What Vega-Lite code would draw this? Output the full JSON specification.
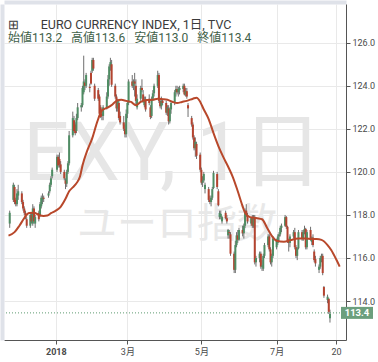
{
  "$schema": "https://vega.github.io/schema/vega-lite/v6.json",
  "autosize": "none",
  "width": 342,
  "height": 336,
  "padding": {"left": 4, "top": 4, "right": 32, "bottom": 22},
  "background": "white",
  "title": {
    "text": "⊞\u00a0\u00a0\u00a0\u00a0\u00a0\u00a0\u00a0EURO CURRENCY INDEX, 1日, TVC",
    "subtitle": "始値113.2\u00a0\u00a0\u00a0高値113.6\u00a0\u00a0\u00a0安値113.0\u00a0\u00a0\u00a0終値113.4",
    "anchor": "start",
    "frame": "group",
    "offset": -42,
    "dx": 4,
    "font": "Roboto, 'Noto Sans CJK JP'",
    "fontSize": 12.5,
    "fontWeight": "normal",
    "color": "#3a3a3a",
    "subtitleFont": "Roboto, 'Noto Sans CJK JP'",
    "subtitleFontSize": 12,
    "subtitleColor": "#3f6149",
    "subtitlePadding": 2
  },
  "config": {
    "view": {"stroke": null},
    "axis": {
      "labelFont": "Roboto, 'Noto Sans CJK JP'",
      "labelFontSize": 9,
      "labelColor": "#4a4a4a",
      "gridColor": "#e9e9e9",
      "domainColor": "#555555",
      "tickColor": "#555555",
      "tickSize": 4,
      "title": null
    }
  },
  "resolve": {"axis": {"x": "independent", "y": "independent"}},
  "datasets": {
    "ohlc": [
      {"d":"2017-11-24","o":117.6,"h":118.2,"l":117.4,"c":118.1},
      {"d":"2017-11-27","o":118.7,"h":119.5,"l":118.6,"c":119.4},
      {"d":"2017-11-28","o":119.3,"h":119.4,"l":118.5,"c":118.6},
      {"d":"2017-11-29","o":118.7,"h":118.8,"l":118.4,"c":118.5},
      {"d":"2017-11-30","o":118.5,"h":119.2,"l":118.4,"c":119.0},
      {"d":"2017-12-01","o":118.9,"h":119.4,"l":118.7,"c":119.1},
      {"d":"2017-12-04","o":119.0,"h":119.1,"l":118.5,"c":118.6},
      {"d":"2017-12-05","o":118.6,"h":118.7,"l":118.2,"c":118.3},
      {"d":"2017-12-06","o":118.3,"h":118.4,"l":118.0,"c":118.1},
      {"d":"2017-12-07","o":118.1,"h":118.2,"l":117.8,"c":117.9},
      {"d":"2017-12-08","o":117.8,"h":117.9,"l":117.4,"c":117.5},
      {"d":"2017-12-11","o":117.5,"h":118.1,"l":117.4,"c":118.0},
      {"d":"2017-12-12","o":118.0,"h":118.1,"l":117.6,"c":117.7},
      {"d":"2017-12-13","o":117.6,"h":118.5,"l":117.5,"c":118.3},
      {"d":"2017-12-14","o":118.3,"h":118.4,"l":117.6,"c":117.7},
      {"d":"2017-12-15","o":117.6,"h":118.0,"l":117.4,"c":117.9},
      {"d":"2017-12-18","o":118.1,"h":118.2,"l":117.7,"c":117.8},
      {"d":"2017-12-19","o":118.0,"h":118.6,"l":117.9,"c":118.5},
      {"d":"2017-12-20","o":118.4,"h":118.9,"l":118.3,"c":118.8},
      {"d":"2017-12-21","o":118.7,"h":119.0,"l":118.5,"c":118.8},
      {"d":"2017-12-22","o":118.8,"h":118.9,"l":118.6,"c":118.75},
      {"d":"2017-12-26","o":118.9,"h":119.1,"l":118.8,"c":119.0},
      {"d":"2017-12-27","o":119.1,"h":119.5,"l":119.0,"c":119.4},
      {"d":"2017-12-28","o":119.4,"h":119.8,"l":119.3,"c":119.7},
      {"d":"2017-12-29","o":119.8,"h":120.2,"l":119.7,"c":120.1},
      {"d":"2018-01-02","o":120.1,"h":120.8,"l":120.0,"c":120.7},
      {"d":"2018-01-03","o":120.7,"h":120.8,"l":120.2,"c":120.3},
      {"d":"2018-01-04","o":120.6,"h":120.9,"l":120.2,"c":120.35},
      {"d":"2018-01-05","o":120.35,"h":120.5,"l":119.9,"c":120.0},
      {"d":"2018-01-08","o":120.0,"h":120.1,"l":119.6,"c":119.7},
      {"d":"2018-01-09","o":119.6,"h":119.7,"l":119.2,"c":119.45},
      {"d":"2018-01-10","o":119.45,"h":120.1,"l":119.3,"c":120.0},
      {"d":"2018-01-11","o":120.0,"h":120.5,"l":119.9,"c":120.4},
      {"d":"2018-01-12","o":120.4,"h":121.9,"l":120.3,"c":121.7},
      {"d":"2018-01-15","o":121.7,"h":122.8,"l":121.6,"c":122.5},
      {"d":"2018-01-16","o":122.4,"h":122.6,"l":121.8,"c":121.9},
      {"d":"2018-01-17","o":122.2,"h":122.3,"l":121.7,"c":121.8},
      {"d":"2018-01-18","o":121.9,"h":122.7,"l":121.8,"c":122.5},
      {"d":"2018-01-19","o":122.5,"h":123.2,"l":122.4,"c":123.0},
      {"d":"2018-01-22","o":123.0,"h":123.2,"l":122.8,"c":123.1},
      {"d":"2018-01-23","o":123.1,"h":124.0,"l":123.0,"c":123.9},
      {"d":"2018-01-24","o":123.7,"h":125.4,"l":123.6,"c":124.2},
      {"d":"2018-01-25","o":124.15,"h":124.3,"l":123.8,"c":124.0},
      {"d":"2018-01-26","o":124.0,"h":124.6,"l":123.9,"c":124.5},
      {"d":"2018-01-29","o":123.95,"h":124.1,"l":123.7,"c":123.9},
      {"d":"2018-01-30","o":124.6,"h":124.7,"l":124.05,"c":124.1},
      {"d":"2018-01-31","o":124.7,"h":125.3,"l":124.6,"c":125.2},
      {"d":"2018-02-01","o":125.2,"h":125.3,"l":124.7,"c":124.8},
      {"d":"2018-02-02","o":124.0,"h":124.1,"l":123.3,"c":123.4},
      {"d":"2018-02-05","o":123.8,"h":123.9,"l":123.3,"c":123.4},
      {"d":"2018-02-06","o":123.5,"h":123.6,"l":122.6,"c":122.7},
      {"d":"2018-02-07","o":123.0,"h":123.1,"l":122.5,"c":122.55},
      {"d":"2018-02-08","o":122.7,"h":122.9,"l":122.4,"c":122.6},
      {"d":"2018-02-09","o":122.6,"h":123.1,"l":122.4,"c":123.0},
      {"d":"2018-02-12","o":123.0,"h":123.7,"l":122.9,"c":123.5},
      {"d":"2018-02-13","o":123.5,"h":124.5,"l":123.4,"c":124.3},
      {"d":"2018-02-14","o":124.3,"h":125.0,"l":124.0,"c":124.9},
      {"d":"2018-02-15","o":124.9,"h":125.3,"l":124.7,"c":125.1},
      {"d":"2018-02-16","o":125.0,"h":125.2,"l":123.95,"c":124.05},
      {"d":"2018-02-19","o":124.0,"h":124.1,"l":123.4,"c":123.5},
      {"d":"2018-02-20","o":123.5,"h":123.6,"l":122.8,"c":122.95},
      {"d":"2018-02-21","o":122.95,"h":123.4,"l":122.8,"c":123.3},
      {"d":"2018-02-22","o":123.2,"h":123.3,"l":122.4,"c":122.5},
      {"d":"2018-02-23","o":122.6,"h":122.8,"l":122.2,"c":122.3},
      {"d":"2018-02-26","o":122.3,"h":122.6,"l":121.9,"c":122.0},
      {"d":"2018-02-27","o":122.0,"h":122.2,"l":121.6,"c":121.75},
      {"d":"2018-02-28","o":121.75,"h":122.9,"l":121.6,"c":122.7},
      {"d":"2018-03-01","o":122.7,"h":123.3,"l":122.5,"c":123.2},
      {"d":"2018-03-02","o":123.2,"h":124.3,"l":123.1,"c":124.2},
      {"d":"2018-03-05","o":124.2,"h":124.5,"l":123.9,"c":124.0},
      {"d":"2018-03-06","o":124.0,"h":124.3,"l":123.8,"c":124.2},
      {"d":"2018-03-07","o":124.2,"h":124.6,"l":123.5,"c":124.1},
      {"d":"2018-03-08","o":124.0,"h":124.3,"l":123.1,"c":123.3},
      {"d":"2018-03-09","o":123.0,"h":123.6,"l":122.9,"c":123.4},
      {"d":"2018-03-12","o":123.4,"h":124.0,"l":123.3,"c":123.9},
      {"d":"2018-03-13","o":123.9,"h":124.3,"l":123.7,"c":123.8},
      {"d":"2018-03-14","o":123.6,"h":123.8,"l":123.2,"c":123.3},
      {"d":"2018-03-15","o":123.1,"h":123.5,"l":123.0,"c":123.35},
      {"d":"2018-03-16","o":123.35,"h":123.5,"l":122.8,"c":122.9},
      {"d":"2018-03-19","o":123.4,"h":123.6,"l":123.1,"c":123.2},
      {"d":"2018-03-20","o":123.0,"h":123.1,"l":122.45,"c":122.55},
      {"d":"2018-03-21","o":122.6,"h":123.5,"l":122.5,"c":123.4},
      {"d":"2018-03-22","o":123.4,"h":123.8,"l":123.3,"c":123.65},
      {"d":"2018-03-23","o":123.65,"h":124.1,"l":123.5,"c":124.0},
      {"d":"2018-03-26","o":124.0,"h":124.7,"l":123.9,"c":124.5},
      {"d":"2018-03-27","o":124.5,"h":124.6,"l":123.2,"c":123.3},
      {"d":"2018-03-28","o":123.3,"h":123.4,"l":122.95,"c":123.05},
      {"d":"2018-03-29","o":123.05,"h":123.5,"l":122.9,"c":123.3},
      {"d":"2018-03-30","o":123.3,"h":123.4,"l":123.1,"c":123.2},
      {"d":"2018-04-02","o":123.2,"h":123.3,"l":122.65,"c":122.75},
      {"d":"2018-04-03","o":122.75,"h":123.1,"l":122.6,"c":123.0},
      {"d":"2018-04-04","o":122.95,"h":123.1,"l":122.2,"c":122.35},
      {"d":"2018-04-05","o":122.35,"h":123.0,"l":122.25,"c":122.9},
      {"d":"2018-04-06","o":122.9,"h":123.3,"l":122.7,"c":123.2},
      {"d":"2018-04-09","o":123.2,"h":123.8,"l":123.1,"c":123.7},
      {"d":"2018-04-10","o":123.7,"h":124.0,"l":123.5,"c":123.85},
      {"d":"2018-04-11","o":123.85,"h":124.0,"l":123.6,"c":123.7},
      {"d":"2018-04-12","o":123.7,"h":123.95,"l":123.5,"c":123.85},
      {"d":"2018-04-13","o":123.8,"h":124.0,"l":123.6,"c":123.9},
      {"d":"2018-04-16","o":123.85,"h":124.1,"l":123.7,"c":124.0},
      {"d":"2018-04-17","o":124.0,"h":124.1,"l":123.55,"c":123.6},
      {"d":"2018-04-18","o":123.6,"h":123.9,"l":123.5,"c":123.75},
      {"d":"2018-04-19","o":123.75,"h":123.9,"l":123.4,"c":123.5},
      {"d":"2018-04-20","o":123.1,"h":123.2,"l":122.55,"c":122.95},
      {"d":"2018-04-23","o":122.5,"h":122.6,"l":122.1,"c":122.2},
      {"d":"2018-04-24","o":122.2,"h":122.3,"l":121.5,"c":121.6},
      {"d":"2018-04-25","o":121.6,"h":121.7,"l":121.0,"c":121.1},
      {"d":"2018-04-26","o":121.1,"h":121.6,"l":120.7,"c":121.4},
      {"d":"2018-04-27","o":121.3,"h":121.4,"l":120.6,"c":120.75},
      {"d":"2018-04-30","o":120.8,"h":120.9,"l":120.0,"c":120.1},
      {"d":"2018-05-01","o":120.1,"h":120.2,"l":119.4,"c":119.5},
      {"d":"2018-05-02","o":119.5,"h":119.8,"l":119.3,"c":119.6},
      {"d":"2018-05-03","o":119.6,"h":120.0,"l":119.5,"c":119.9},
      {"d":"2018-05-04","o":119.2,"h":119.5,"l":119.0,"c":119.4},
      {"d":"2018-05-07","o":119.2,"h":119.3,"l":118.6,"c":118.7},
      {"d":"2018-05-08","o":118.7,"h":118.9,"l":118.5,"c":118.6},
      {"d":"2018-05-09","o":118.6,"h":118.9,"l":118.4,"c":118.8},
      {"d":"2018-05-10","o":118.8,"h":119.3,"l":118.7,"c":119.2},
      {"d":"2018-05-11","o":119.25,"h":120.05,"l":119.2,"c":119.95},
      {"d":"2018-05-14","o":119.9,"h":120.0,"l":119.2,"c":119.3},
      {"d":"2018-05-15","o":119.1,"h":119.2,"l":118.4,"c":118.45},
      {"d":"2018-05-16","o":117.9,"h":118.2,"l":117.8,"c":118.1},
      {"d":"2018-05-17","o":117.9,"h":118.2,"l":117.8,"c":118.05},
      {"d":"2018-05-18","o":117.7,"h":117.95,"l":117.6,"c":117.9},
      {"d":"2018-05-21","o":118.1,"h":118.2,"l":117.8,"c":117.85},
      {"d":"2018-05-22","o":117.85,"h":118.0,"l":117.6,"c":117.7},
      {"d":"2018-05-23","o":117.05,"h":117.35,"l":116.9,"c":117.3},
      {"d":"2018-05-24","o":117.2,"h":117.3,"l":116.9,"c":117.15},
      {"d":"2018-05-25","o":117.1,"h":117.2,"l":116.1,"c":116.2},
      {"d":"2018-05-28","o":116.2,"h":116.3,"l":115.3,"c":115.45},
      {"d":"2018-05-29","o":115.45,"h":116.8,"l":115.3,"c":116.6},
      {"d":"2018-05-30","o":116.6,"h":117.2,"l":116.5,"c":117.05},
      {"d":"2018-05-31","o":117.05,"h":117.3,"l":116.7,"c":116.85},
      {"d":"2018-06-01","o":116.85,"h":117.4,"l":116.8,"c":117.3},
      {"d":"2018-06-04","o":117.3,"h":117.5,"l":117.0,"c":117.15},
      {"d":"2018-06-05","o":117.15,"h":117.6,"l":116.9,"c":117.5},
      {"d":"2018-06-06","o":117.5,"h":118.3,"l":117.4,"c":118.2},
      {"d":"2018-06-07","o":118.2,"h":118.5,"l":117.9,"c":118.0},
      {"d":"2018-06-08","o":118.0,"h":118.1,"l":117.6,"c":117.7},
      {"d":"2018-06-11","o":117.6,"h":117.9,"l":117.5,"c":117.85},
      {"d":"2018-06-12","o":117.85,"h":118.0,"l":117.4,"c":117.5},
      {"d":"2018-06-13","o":117.5,"h":118.0,"l":117.4,"c":117.9},
      {"d":"2018-06-14","o":117.9,"h":118.0,"l":115.7,"c":115.8},
      {"d":"2018-06-15","o":115.8,"h":116.1,"l":115.6,"c":116.0},
      {"d":"2018-06-18","o":116.0,"h":116.3,"l":115.8,"c":116.2},
      {"d":"2018-06-19","o":116.2,"h":116.3,"l":115.5,"c":115.6},
      {"d":"2018-06-20","o":115.6,"h":115.9,"l":115.4,"c":115.65},
      {"d":"2018-06-21","o":115.5,"h":116.2,"l":115.4,"c":116.1},
      {"d":"2018-06-22","o":116.1,"h":116.7,"l":116.0,"c":116.6},
      {"d":"2018-06-25","o":116.6,"h":117.1,"l":116.5,"c":117.0},
      {"d":"2018-06-26","o":117.0,"h":117.1,"l":116.3,"c":116.4},
      {"d":"2018-06-27","o":116.4,"h":116.5,"l":115.7,"c":115.8},
      {"d":"2018-06-28","o":115.8,"h":116.2,"l":115.6,"c":116.1},
      {"d":"2018-06-29","o":116.1,"h":117.0,"l":116.0,"c":116.9},
      {"d":"2018-07-02","o":116.5,"h":116.9,"l":116.4,"c":116.8},
      {"d":"2018-07-03","o":116.7,"h":117.1,"l":116.6,"c":117.0},
      {"d":"2018-07-04","o":117.0,"h":117.2,"l":116.8,"c":117.1},
      {"d":"2018-07-05","o":117.1,"h":117.5,"l":117.0,"c":117.4},
      {"d":"2018-07-06","o":117.4,"h":117.6,"l":117.2,"c":117.5},
      {"d":"2018-07-09","o":117.5,"h":118.0,"l":117.45,"c":117.9},
      {"d":"2018-07-10","o":117.9,"h":117.95,"l":117.35,"c":117.45},
      {"d":"2018-07-11","o":117.45,"h":117.5,"l":116.7,"c":116.8},
      {"d":"2018-07-12","o":116.8,"h":116.9,"l":116.3,"c":116.7},
      {"d":"2018-07-13","o":116.7,"h":117.1,"l":116.5,"c":117.0},
      {"d":"2018-07-16","o":117.0,"h":117.3,"l":116.9,"c":117.2},
      {"d":"2018-07-17","o":117.2,"h":117.4,"l":116.4,"c":116.5},
      {"d":"2018-07-18","o":116.5,"h":116.6,"l":116.0,"c":116.1},
      {"d":"2018-07-19","o":116.1,"h":116.5,"l":115.9,"c":116.45},
      {"d":"2018-07-20","o":116.45,"h":117.3,"l":116.4,"c":117.2},
      {"d":"2018-07-23","o":117.2,"h":117.3,"l":116.8,"c":116.9},
      {"d":"2018-07-24","o":116.9,"h":117.3,"l":116.8,"c":117.2},
      {"d":"2018-07-25","o":117.2,"h":117.5,"l":117.1,"c":117.35},
      {"d":"2018-07-26","o":117.35,"h":117.4,"l":116.4,"c":116.5},
      {"d":"2018-07-27","o":116.5,"h":117.3,"l":116.4,"c":117.2},
      {"d":"2018-07-30","o":117.3,"h":117.45,"l":116.8,"c":116.9},
      {"d":"2018-07-31","o":116.75,"h":117.0,"l":116.6,"c":116.95},
      {"d":"2018-08-01","o":116.95,"h":117.1,"l":116.5,"c":116.6},
      {"d":"2018-08-02","o":116.3,"h":116.4,"l":115.8,"c":115.9},
      {"d":"2018-08-03","o":115.95,"h":116.1,"l":115.6,"c":115.75},
      {"d":"2018-08-06","o":115.45,"h":115.7,"l":115.3,"c":115.6},
      {"d":"2018-08-07","o":115.6,"h":116.1,"l":115.5,"c":116.0},
      {"d":"2018-08-08","o":116.0,"h":116.2,"l":115.8,"c":116.1},
      {"d":"2018-08-09","o":116.1,"h":116.2,"l":115.2,"c":115.3},
      {"d":"2018-08-10","o":114.65,"h":114.7,"l":114.15,"c":114.25},
      {"d":"2018-08-13","o":114.05,"h":114.3,"l":113.9,"c":114.2},
      {"d":"2018-08-14","o":114.1,"h":114.15,"l":113.4,"c":113.5},
      {"d":"2018-08-15","o":113.2,"h":113.6,"l":113.0,"c":113.4}
    ],
    "ma": [
      {"d":"2017-11-23","v":117.04},{"d":"2017-11-28","v":117.2},{"d":"2017-12-02","v":117.5},
      {"d":"2017-12-06","v":117.85},{"d":"2017-12-10","v":118.09},{"d":"2017-12-14","v":118.1},
      {"d":"2017-12-18","v":118.0},{"d":"2017-12-22","v":117.95},{"d":"2017-12-25","v":117.97},
      {"d":"2017-12-28","v":118.08},{"d":"2018-01-01","v":118.2},{"d":"2018-01-05","v":118.38},
      {"d":"2018-01-09","v":118.75},{"d":"2018-01-12","v":119.1},{"d":"2018-01-15","v":119.28},
      {"d":"2018-01-18","v":119.47},{"d":"2018-01-21","v":119.8},{"d":"2018-01-23","v":120.3},
      {"d":"2018-01-27","v":121.0},{"d":"2018-01-31","v":121.56},{"d":"2018-02-04","v":122.3},
      {"d":"2018-02-08","v":122.85},{"d":"2018-02-12","v":122.97},{"d":"2018-02-16","v":123.1},
      {"d":"2018-02-20","v":123.3},{"d":"2018-02-24","v":123.35},{"d":"2018-02-28","v":123.3},
      {"d":"2018-03-04","v":123.25},{"d":"2018-03-08","v":123.1},{"d":"2018-03-12","v":123.25},
      {"d":"2018-03-17","v":123.34},{"d":"2018-03-22","v":123.35},{"d":"2018-03-26","v":123.4},
      {"d":"2018-03-30","v":123.38},{"d":"2018-04-03","v":123.35},{"d":"2018-04-07","v":123.26},
      {"d":"2018-04-11","v":123.2},{"d":"2018-04-15","v":123.25},{"d":"2018-04-19","v":123.3},
      {"d":"2018-04-24","v":123.4},{"d":"2018-04-27","v":123.45},{"d":"2018-04-29","v":123.35},
      {"d":"2018-05-03","v":122.9},{"d":"2018-05-07","v":122.45},{"d":"2018-05-11","v":121.8},
      {"d":"2018-05-15","v":121.2},{"d":"2018-05-19","v":120.7},{"d":"2018-05-23","v":120.25},
      {"d":"2018-05-27","v":119.75},{"d":"2018-05-31","v":119.1},{"d":"2018-06-04","v":118.4},
      {"d":"2018-06-06","v":118.1},{"d":"2018-06-10","v":117.9},{"d":"2018-06-16","v":117.85},
      {"d":"2018-06-20","v":117.8},{"d":"2018-06-24","v":117.42},{"d":"2018-06-28","v":117.03},
      {"d":"2018-07-02","v":116.8},{"d":"2018-07-08","v":116.75},{"d":"2018-07-14","v":116.84},
      {"d":"2018-07-20","v":116.9},{"d":"2018-07-26","v":116.91},{"d":"2018-07-31","v":116.88},
      {"d":"2018-08-04","v":116.88},{"d":"2018-08-08","v":116.84},{"d":"2018-08-13","v":116.6},
      {"d":"2018-08-16","v":116.37},{"d":"2018-08-20","v":115.95},{"d":"2018-08-23","v":115.6}
    ],
    "one": [{"k": 1}]
  },
  "layer": [
    {
      "data": {"name": "one"},
      "mark": {"type": "text", "text": "EXY, 1日", "font": "Roboto, 'Noto Sans CJK JP'", "fontSize": 81, "color": "#e6e6e6", "align": "center", "baseline": "alphabetic"},
      "encoding": {
        "x": {"datum": {"year": 2018, "month": 4, "date": 7, "hours": 14, "utc": true}, "type": "temporal", "scale": {"type": "utc"}, "axis": null},
        "y": {"datum": 119.62, "type": "quantitative", "axis": null}
      }
    },
    {
      "data": {"name": "one"},
      "mark": {"type": "text", "text": "ユーロ指数", "font": "'Noto Sans CJK JP'", "fontSize": 40, "color": "#e8e8e8", "align": "center", "baseline": "alphabetic"},
      "encoding": {
        "x": {"datum": {"year": 2018, "month": 4, "date": 11, "utc": true}, "type": "temporal", "scale": {"type": "utc"}, "axis": null},
        "y": {"datum": 116.98, "type": "quantitative", "axis": null}
      }
    },
    {
      "data": {"name": "ohlc"},
      "mark": {"type": "rule", "color": "#6f6f6f", "strokeWidth": 1},
      "encoding": {
        "x": {
          "field": "d", "type": "temporal",
          "scale": {"type": "utc", "domain": [{"year": 2017, "month": 11, "date": 23, "hours": 10, "utc": true}, {"year": 2018, "month": 8, "date": 24, "hours": 2, "utc": true}]},
          "axis": {
            "orient": "bottom",
            "values": [
              {"year": 2018, "month": 1, "date": 1, "utc": true},
              {"year": 2018, "month": 3, "date": 1, "utc": true},
              {"year": 2018, "month": 5, "date": 1, "utc": true},
              {"year": 2018, "month": 7, "date": 2, "utc": true},
              {"year": 2018, "month": 8, "date": 20, "utc": true}
            ],
            "labelExpr": "utcmonth(datum.value) == 0 ? '2018' : (utcmonth(datum.value) == 7 ? '' + utcdate(datum.value) : (utcmonth(datum.value) + 1) + '月')",
            "labelFontWeight": {"condition": {"test": "utcmonth(datum.value) == 0", "value": "bold"}, "value": "normal"},
            "labelPadding": 3,
            "labelOverlap": false,
            "grid": true
          }
        },
        "y": {
          "field": "l", "type": "quantitative",
          "scale": {"domain": [112.19, 127.8], "zero": false, "nice": false},
          "axis": {"orient": "right", "values": [114, 116, 118, 120, 122, 124, 126], "format": ".1f", "labelPadding": 2, "grid": true, "labelOverlap": false}
        },
        "y2": {"field": "h"}
      }
    },
    {
      "data": {"name": "ohlc"},
      "mark": {"type": "bar", "size": 2},
      "encoding": {
        "x": {"field": "d", "type": "temporal", "scale": {"type": "utc"}, "axis": null},
        "y": {"field": "o", "type": "quantitative", "axis": null},
        "y2": {"field": "c"},
        "color": {"condition": {"test": "datum.c >= datum.o", "value": "#4f8d64"}, "value": "#b4432f"}
      }
    },
    {
      "data": {"name": "ma"},
      "mark": {"type": "line", "color": "#b8482b", "strokeWidth": 2, "interpolate": "monotone"},
      "encoding": {
        "x": {"field": "d", "type": "temporal", "scale": {"type": "utc"}, "axis": {"orient": "top", "domain": true, "domainColor": "#dfe2e9", "domainWidth": 4, "offset": 2, "labels": false, "ticks": false, "grid": false}},
        "y": {"field": "v", "type": "quantitative", "axis": {"orient": "left", "domain": true, "domainColor": "#dfe2e9", "domainWidth": 4, "offset": 2, "labels": false, "ticks": false, "grid": false}}
      }
    },
    {
      "data": {"name": "one"},
      "mark": {"type": "rule", "color": "#5e9a70", "strokeWidth": 1, "strokeDash": [1, 2]},
      "encoding": {
        "y": {"datum": 113.45, "type": "quantitative", "axis": null}
      }
    },
    {
      "data": {"name": "one"},
      "mark": {"type": "rect", "color": "#6c9f7d", "x2Offset": 32, "yOffset": -6, "y2Offset": 6},
      "encoding": {
        "x": {"datum": {"year": 2018, "month": 8, "date": 24, "hours": 2, "utc": true}, "type": "temporal", "scale": {"type": "utc"}, "axis": null},
        "x2": {"datum": {"year": 2018, "month": 8, "date": 24, "hours": 2, "utc": true}},
        "y": {"datum": 113.45, "type": "quantitative", "axis": null},
        "y2": {"datum": 113.45}
      }
    },
    {
      "data": {"name": "one"},
      "mark": {"type": "text", "text": "113.4", "dx": 16, "align": "center", "baseline": "middle", "color": "white", "fontWeight": "bold", "fontSize": 9.5, "font": "Roboto"},
      "encoding": {
        "x": {"datum": {"year": 2018, "month": 8, "date": 24, "hours": 2, "utc": true}, "type": "temporal", "scale": {"type": "utc"}, "axis": null},
        "y": {"datum": 113.45, "type": "quantitative", "axis": null}
      }
    }
  ]
}
